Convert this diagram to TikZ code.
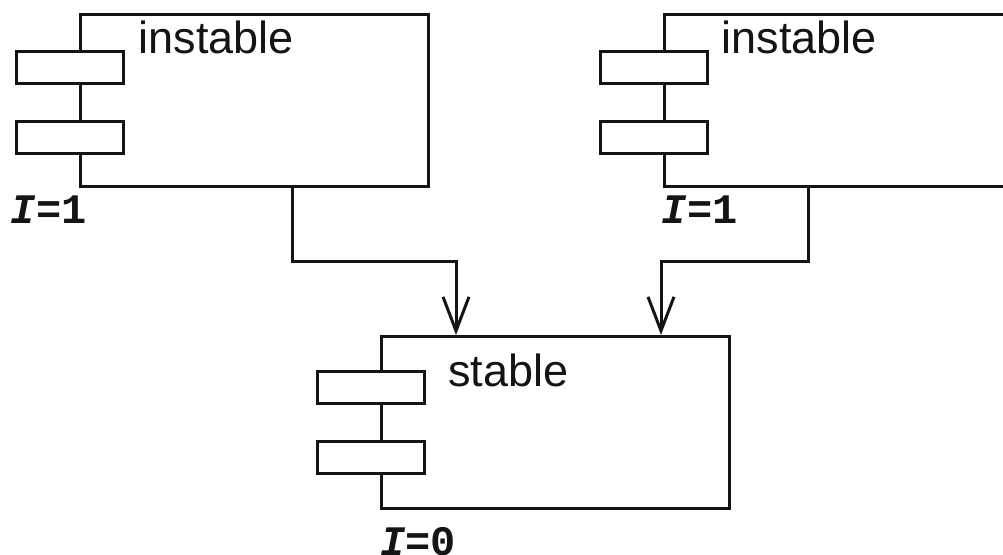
\documentclass[tikz,border=0pt]{standalone}
\usepackage{fontspec}
\setmainfont{Liberation Sans}
\newfontfamily\codefont{Liberation Mono}
\usepackage{tikz}
\usetikzlibrary{arrows.meta,positioning}
\definecolor{ink}{HTML}{141414}

\tikzset{
  compbox/.style={rectangle,draw=ink,line width=1.5pt,fill=white,minimum width=174pt,minimum height=86pt,inner sep=0pt},
  portbox/.style={rectangle,draw=ink,line width=1.5pt,fill=white,minimum width=53.5pt,minimum height=16pt,inner sep=0pt},
  compname/.style={anchor=base west,inner sep=0pt,text=ink,font=\fontsize{22.5}{27}\selectfont},
  ilabel/.style={anchor=base west,inner sep=0pt,text=ink,font=\codefont\bfseries\fontsize{21}{25}\selectfont},
  conn/.style={-{Straight Barb[length=17pt,width=13pt,line width=1.5pt]},draw=ink,line width=1.5pt}
}

\begin{document}
\begin{tikzpicture}[x=0.5pt,y=-0.5pt]
\useasboundingbox (0,0) rectangle (1003,554);
\clip (0,0) rectangle (1003,554);
% components
\node[compbox] (inst1) at (254,100) {};
\node[compbox] (inst2) at (838,100) {};
\node[compbox] (stab) at (555.5,422.5) {};
% ports
\node[portbox] (inst1p1) at ([xshift=-4.5pt,yshift=-27.5pt]inst1.north west) {};
\node[portbox] (inst1p2) at ([xshift=-4.5pt,yshift=-62.5pt]inst1.north west) {};
\node[portbox] (inst2p1) at ([xshift=-4.5pt,yshift=-27.5pt]inst2.north west) {};
\node[portbox] (inst2p2) at ([xshift=-4.5pt,yshift=-62.5pt]inst2.north west) {};
\node[portbox] (stabp1) at ([xshift=-4.5pt,yshift=-26pt]stab.north west) {};
\node[portbox] (stabp2) at ([xshift=-4.5pt,yshift=-61pt]stab.north west) {};
% names
\node[compname] (inst1name) at ([xshift=30pt,yshift=-20.5pt]inst1.north west) {instable};
\node[compname] (inst2name) at ([xshift=29.5pt,yshift=-20.5pt]inst2.north west) {instable};
\node[compname] (stabname) at ([xshift=34pt,yshift=-25.5pt]stab.north west) {stable};
% instability values
\node[ilabel] (inst1val) at ([xshift=-34pt,yshift=-18pt]inst1.south west) {\textit{I}=1};
\node[ilabel] (inst2val) at ([xshift=-0.5pt,yshift=-18pt]inst2.south west) {\textit{I}=1};
\node[ilabel] (stabval) at ([xshift=0pt,yshift=-22.5pt]stab.south west) {\textit{I}=0};
% dependencies
\draw[conn] ([xshift=19pt]inst1.south) -- ++(0,74) -| ([xshift=-49.75pt]stab.north);
\draw[conn] ([xshift=-15pt]inst2.south) -- ++(0,74) -| ([xshift=52.75pt]stab.north);
\end{tikzpicture}
\end{document}
